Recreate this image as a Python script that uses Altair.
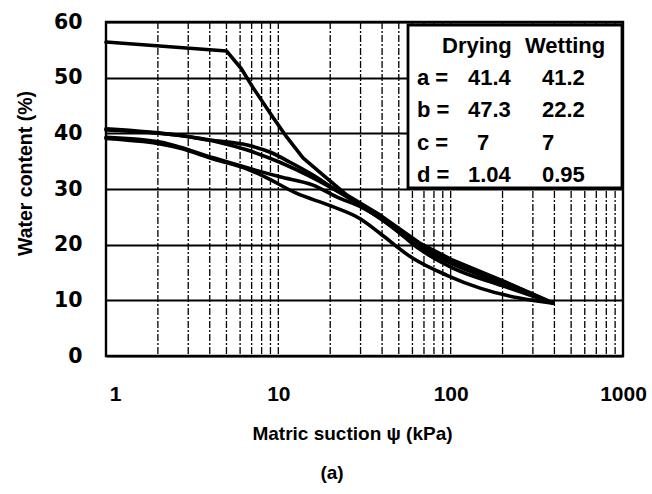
import altair as alt
import pandas as pd

# Soil-water characteristic curves: matric suction (kPa) vs gravimetric water content (%)
drying_sat_suction = [1, 5.0, 6.1, 7.1, 9.3, 11.2, 13.9, 18.2, 25, 39, 66, 103, 201, 393]
drying_sat_water = [56.4, 54.8, 51.6, 48.3, 42.9, 39.3, 35.6, 32.5, 28.9, 25.3, 20.3, 17.2, 13.5, 9.5]

wetting_a_suction = [1, 2.7, 4.0, 6.6, 9.0, 11.7, 15.9, 20.7, 28.6, 39, 66, 103, 201, 393]
wetting_a_water = [40.6, 39.6, 38.8, 37.9, 36.6, 34.8, 32.5, 30.2, 27.7, 25.0, 20.0, 17.0, 13.4, 9.5]

wetting_b_suction = [1, 2.7, 4.5, 6.6, 10.2, 15.9, 22, 39, 66, 103, 201, 393]
wetting_b_water = [40.8, 39.6, 38.4, 37.0, 34.8, 32.0, 29.6, 24.7, 19.6, 16.5, 13.0, 9.5]

drying_a_suction = [1, 2.1, 2.7, 4.2, 6.6, 10.2, 15.9, 21.8, 30.9, 44.5, 66, 103, 201, 393]
drying_a_water = [39.3, 38.4, 37.5, 35.6, 33.8, 32.2, 30.7, 28.6, 26.6, 23.5, 19.2, 15.8, 12.6, 9.5]

drying_b_suction = [1, 2.7, 4.2, 6.6, 8.2, 12.8, 20, 30, 39, 60, 95, 148, 250, 393]
drying_b_water = [39.1, 37.3, 35.4, 33.6, 32.3, 29.2, 27.0, 24.6, 22.0, 17.6, 14.5, 12.2, 10.4, 9.5]

# Fitted parameters shown in the inset table
param_names = ["a", "b", "c", "d"]
drying_params = ["41.4", "47.3", "7", "1.04"]
wetting_params = ["41.2", "22.2", "7", "0.95"]
column_headers = ["Drying", "Wetting"]

# Log-axis labels and dashed minor grid positions
x_labels = [1, 10, 100, 1000]
x_grid = [2, 3, 4, 5, 6, 7, 8, 9, 10, 20, 30, 40, 50, 60, 70, 80, 90,
          100, 200, 300, 400, 500, 600, 700, 800, 900]
y_labels = [0, 10, 20, 30, 40, 50, 60]

curves = {
    "drying_sat": (drying_sat_suction, drying_sat_water),
    "wetting_a": (wetting_a_suction, wetting_a_water),
    "wetting_b": (wetting_b_suction, wetting_b_water),
    "drying_a": (drying_a_suction, drying_a_water),
    "drying_b": (drying_b_suction, drying_b_water),
}
records = []
for name, (s_vals, w_vals) in curves.items():
    for s, w in zip(s_vals, w_vals):
        records.append({"curve": name, "suction": s, "water": w})
curve_df = pd.DataFrame(records)

W, H = 517, 334
FONT = "Liberation Sans"

x_scale = alt.Scale(type="log", domain=[1, 1000])
y_scale = alt.Scale(domain=[0, 60])

x_axis = alt.Axis(
    values=x_labels, format="d", grid=False, ticks=False, domain=False,
    labelFont=FONT, labelFontSize=21, labelFontWeight="bold", labelColor="black",
    labelPadding=27, labelFlush=False, labelOverlap=False,
    labelOffset={"condition": {"test": "datum.value == 1", "value": 9}, "value": 0},
    title="Matric suction  \u03c8 (kPa)", titleFont=FONT, titleFontSize=19,
    titleFontWeight="bold", titleColor="black", titleX=246, titleY=77,
    titleBaseline="middle", titleAlign="center",
)
y_axis = alt.Axis(
    values=y_labels, grid=True, gridColor="black", gridWidth=1.8, gridOpacity=1,
    ticks=False, domain=False,
    labelFont="DejaVu Sans", labelFontSize=20.5, labelFontWeight="bold", labelColor="black",
    labelPadding=24,
    title="Water content (%)", titleFont=FONT, titleFontSize=19.5, titleFontWeight="bold",
    titleColor="black", titleX=-81, titleY=151, titleAngle=270,
    titleBaseline="middle", titleAlign="center",
)

grid = alt.Chart(pd.DataFrame({"s": x_grid})).mark_rule(
    color="black", strokeWidth=1.3, strokeDash=[7, 2, 2, 2]
).encode(x=alt.X("s:Q", scale=x_scale, axis=x_axis))

line_style = dict(color="black", strokeWidth=3.6, strokeCap="round", strokeJoin="round")
line_enc = dict(
    x=alt.X("suction:Q", scale=x_scale, axis=x_axis),
    y=alt.Y("water:Q", scale=y_scale, axis=y_axis),
    detail="curve:N",
    order="suction:Q",
)
# The path from saturation keeps its sharp break; the others are drawn smooth
sat_line = alt.Chart(curve_df).transform_filter(
    "datum.curve == 'drying_sat'"
).mark_line(interpolate="linear", **line_style).encode(**line_enc)
smooth_lines = alt.Chart(curve_df).transform_filter(
    "datum.curve != 'drying_sat'"
).mark_line(interpolate="monotone", **line_style).encode(**line_enc)

box = alt.Chart(pd.DataFrame({"k": [0]})).mark_rect(
    fill="white", stroke="black", strokeWidth=2.8
).encode(x=alt.value(302), x2=alt.value(516), y=alt.value(3), y2=alt.value(166))

table = pd.DataFrame({
    "param": param_names, "drying": drying_params, "wetting": wetting_params,
    "row": list(range(len(param_names))),
})
text_style = dict(font=FONT, fontSize=22, fontWeight="bold", color="black",
                  align="left", baseline="middle")
table_base = alt.Chart(table).transform_calculate(
    py="56 + 32.3 * datum.row",
    label="datum.param + ' ='",
    dx="length(datum.drying) < 2 ? 371 : 362",
)
param_col = table_base.mark_text(**text_style).encode(
    x=alt.value(311), y=alt.Y("py:Q", scale=None), text="label:N")
drying_col = table_base.mark_text(**text_style).encode(
    x=alt.X("dx:Q", scale=None), y=alt.Y("py:Q", scale=None), text="drying:N")
wetting_col = table_base.mark_text(**text_style).encode(
    x=alt.value(436), y=alt.Y("py:Q", scale=None), text="wetting:N")

headers = alt.Chart(pd.DataFrame({"h": column_headers})).transform_calculate(
    hx="datum.h == 'Drying' ? 336 : 419"
).mark_text(**text_style).encode(
    x=alt.X("hx:Q", scale=None), y=alt.value(24), text="h:N")

panel_tag = alt.Chart(pd.DataFrame({"t": ["(a)"]})).mark_text(
    font=FONT, fontSize=19, fontWeight="bold", color="black", baseline="middle"
).encode(x=alt.value(226), y=alt.value(451), text="t:N")

chart = alt.layer(
    grid, sat_line, smooth_lines, box, headers, param_col, drying_col, wetting_col, panel_tag
).properties(
    width=W, height=H,
    autosize=alt.AutoSizeParams(type="none"),
    padding={"left": 106, "top": 22, "right": 29, "bottom": 138},
    background="white",
).configure_view(stroke="black", strokeWidth=2.4)

chart.save("out.html", embed_options={"renderer": "svg", "actions": False})
